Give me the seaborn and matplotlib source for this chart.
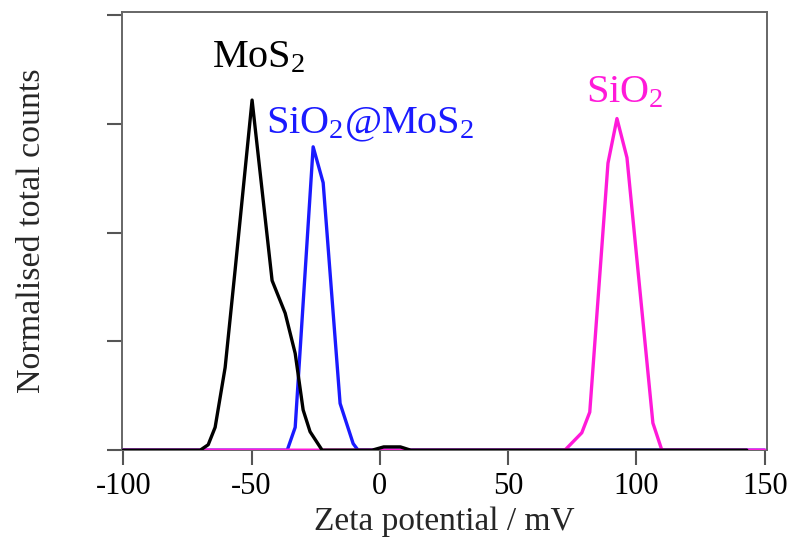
import matplotlib
matplotlib.use('Agg')
import matplotlib.pyplot as plt
import seaborn as sns
import pandas as pd

# Zeta potential distributions
mos2_x = [-100, -70.0, -66.9, -64.2, -60.3, -56.4, -49.8, -42.0, -36.9, -33.0, -29.9, -27.2, -22.5, -3.0, 1.5, 8.0, 12.0, 143.0]
mos2_y = [0, 0, 0.05, 0.21, 0.76, 1.66, 3.22, 1.56, 1.26, 0.89, 0.37, 0.17, 0, 0, 0.03, 0.03, 0, 0]

core_x = [-100, -36.1, -33.0, -26.0, -22.1, -15.5, -10.4, -8.5, 150]
core_y = [0, 0, 0.21, 2.79, 2.46, 0.43, 0.06, 0, 0]

sio2_x = [-100, 72.1, 78.7, 81.8, 88.9, 92.4, 96.3, 106.4, 109.9, 150]
sio2_y = [0, 0, 0.16, 0.35, 2.64, 3.05, 2.69, 0.25, 0, 0]

labels = ['MoS$_2$', 'SiO$_2$@MoS$_2$', 'SiO$_2$']
label_x = [-47.4, -3.8, 95.5]
label_y = [3.61, 2.99, 3.29]
colors = ['black', '#1a1aff', '#ff1ad9']

x_ticks = [-100, -50, 0, 50, 100, 150]
y_ticks = [0, 1, 2, 3, 4]

sns.set_style('white')
plt.rcParams['font.family'] = ['Liberation Serif', 'DejaVu Serif']
plt.rcParams['mathtext.fontset'] = 'custom'
plt.rcParams['mathtext.rm'] = 'Liberation Serif'
plt.rcParams['mathtext.it'] = 'Liberation Serif:italic'

fig = plt.figure(figsize=(7.87, 5.45), dpi=100)
ax = fig.add_axes([0.155, 0.174, 0.82, 0.804])

core = pd.DataFrame({'x': core_x, 'y': core_y})
sio2 = pd.DataFrame({'x': sio2_x, 'y': sio2_y})
mos2 = pd.DataFrame({'x': mos2_x, 'y': mos2_y})

# draw order: blue under pink under black (as on the baseline in the original)
sns.lineplot(data=core, x='x', y='y', color=colors[1], lw=2.4, ax=ax, sort=False, zorder=3)
sns.lineplot(data=sio2, x='x', y='y', color=colors[2], lw=2.4, ax=ax, sort=False, zorder=3)
sns.lineplot(data=mos2, x='x', y='y', color=colors[0], lw=2.4, ax=ax, sort=False, zorder=3)

for t, lx, ly, c in zip(labels, label_x, label_y, colors):
    ax.text(lx, ly, t, color=c, fontsize=29, ha='center', va='center')

ax.set_xlim(-100.5, 151)
ax.set_ylim(0, 4.03)
ax.set_xticks(x_ticks)
ax.set_xticklabels([str(v) for v in x_ticks])
ax.set_yticks(y_ticks)
ax.set_yticklabels([])
ax.tick_params(axis='both', direction='out', length=11, width=1.5, color='#555555',
               labelsize=22, labelcolor='black', pad=5, bottom=True, left=True)
for s in ax.spines.values():
    s.set_color('#666666')
    s.set_linewidth(1.4)

ax.set_xlabel('Zeta potential / mV', fontsize=24, labelpad=4)
ax.set_ylabel('Normalised total counts', fontsize=24.5, labelpad=38)

fig.savefig('out.png', dpi=100)
